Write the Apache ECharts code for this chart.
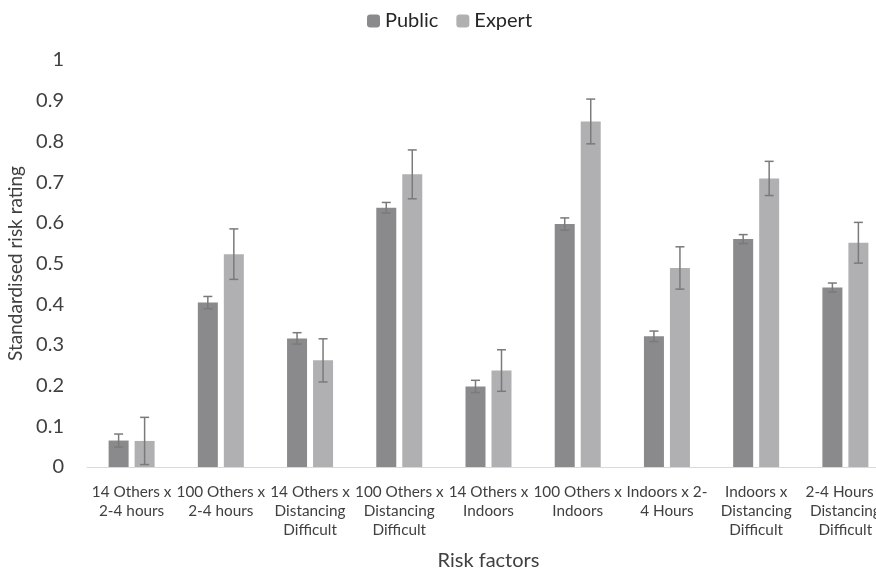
<!DOCTYPE html>
<html>
<head>
<meta charset="utf-8">
<script src="https://cdn.jsdelivr.net/npm/echarts@6/dist/echarts.min.js"></script>
<style>
  html, body { margin: 0; padding: 0; background: #fff; }
  #chart { width: 876px; height: 571px; }
</style>
</head>
<body>
<div id="chart"></div>
<script>
// Risk factor combinations (x axis)
const categories = [
  '14 Others x\n2-4 hours',
  '100 Others x\n2-4 hours',
  '14 Others x\nDistancing\nDifficult',
  '100 Others x\nDistancing\nDifficult',
  '14 Others x\nIndoors',
  '100 Others x\nIndoors',
  'Indoors x 2-\n4 Hours',
  'Indoors x\nDistancing\nDifficult',
  '2-4 Hours x\nDistancing\nDifficult'
];

// Mean standardised risk ratings
const publicMeans = [0.065, 0.404, 0.316, 0.637, 0.198, 0.597, 0.321, 0.560, 0.441];
const expertMeans = [0.064, 0.523, 0.262, 0.719, 0.237, 0.849, 0.489, 0.709, 0.551];

// Error bar half-widths (±)
const publicErr = [0.016, 0.015, 0.014, 0.013, 0.015, 0.015, 0.013, 0.011, 0.011];
const expertErr = [0.058, 0.062, 0.053, 0.060, 0.051, 0.055, 0.052, 0.042, 0.050];

const seriesNames = ['Public', 'Expert'];
const yTicks = [0, 0.1, 0.2, 0.3, 0.4, 0.5, 0.6, 0.7, 0.8, 0.9, 1];

const FONT = 'Lato, "Open Sans", sans-serif';
const BAR_W = 20;
const BAR_GAP = 6;
const colors = ['#8a8a8c', '#b0b0b2'];

function errorSeries(means, errs, side) {
  return {
    type: 'custom',
    z: 5,
    silent: true,
    data: means.map((m, i) => [i, m - errs[i], m + errs[i]]),
    renderItem: function (params, api) {
      const idx = api.value(0);
      const lo = api.coord([idx, api.value(1)]);
      const hi = api.coord([idx, api.value(2)]);
      const x = lo[0] + side * (BAR_W + BAR_GAP) / 2;
      const cap = 4.5;
      const style = { stroke: '#7a7a7a', lineWidth: 1.5, fill: null };
      return {
        type: 'group',
        children: [
          { type: 'line', shape: { x1: x, y1: lo[1], x2: x, y2: hi[1] }, style: style },
          { type: 'line', shape: { x1: x - cap, y1: hi[1], x2: x + cap, y2: hi[1] }, style: style },
          { type: 'line', shape: { x1: x - cap, y1: lo[1], x2: x + cap, y2: lo[1] }, style: style }
        ]
      };
    }
  };
}

const chart = echarts.init(document.getElementById('chart'));
chart.setOption({
  animation: false,
  textStyle: { fontFamily: FONT },
  legend: {
    data: seriesNames,
    top: 6,
    left: 362,
    itemWidth: 13,
    itemHeight: 13,
    itemGap: 18,
    textStyle: { fontSize: 20, color: '#262626', fontFamily: FONT }
  },
  grid: { left: 87, top: 60, width: 803, height: 407, containLabel: false, outerBoundsMode: 'none' },
  xAxis: {
    type: 'category',
    data: categories,
    axisLine: { lineStyle: { color: '#d9d9d9', width: 1 } },
    axisTick: { show: false },
    axisLabel: {
      interval: 0,
      margin: 16,
      fontSize: 15.3,
      lineHeight: 19,
      color: '#404040',
      fontFamily: FONT
    },
    name: 'Risk factors',
    nameLocation: 'middle',
    nameGap: 84,
    nameTextStyle: { fontSize: 20, color: '#404040', fontFamily: FONT }
  },
  yAxis: {
    type: 'value',
    min: yTicks[0],
    max: yTicks[yTicks.length - 1],
    interval: 0.1,
    splitLine: { show: false },
    axisLine: { show: false },
    axisTick: { show: false },
    axisLabel: {
      margin: 23,
      fontSize: 20,
      color: '#404040',
      fontFamily: FONT
    },
    name: 'Standardised risk rating',
    nameLocation: 'middle',
    nameGap: 59,
    nameTextStyle: { fontSize: 19, color: '#404040', fontFamily: FONT }
  },
  series: [
    {
      name: seriesNames[0],
      type: 'bar',
      data: publicMeans,
      barWidth: BAR_W,
      barGap: (BAR_GAP / BAR_W * 100) + '%',
      itemStyle: { color: colors[0] }
    },
    {
      name: seriesNames[1],
      type: 'bar',
      data: expertMeans,
      barWidth: BAR_W,
      itemStyle: { color: colors[1] }
    },
    errorSeries(publicMeans, publicErr, -1),
    errorSeries(expertMeans, expertErr, 1)
  ]
});
</script>
</body>
</html>
